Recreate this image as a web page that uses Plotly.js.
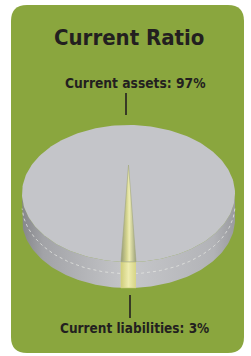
<!DOCTYPE html>
<html><head><meta charset="utf-8">
<script src="https://cdn.plot.ly/plotly-3.0.1.min.js"></script>
<style>html,body{margin:0;padding:0;background:#fff;}#c{width:251px;height:356px;}</style>
</head><body><div id="c"></div>
<script>
// ---- data ----
const title = 'Current Ratio';
const categories = ['Current assets', 'Current liabilities'];
const values = [97, 3];

// ---- geometry (pixel-like axis units) ----
const W = 251, H = 356;
const cx = 128.5, cy = 193.5, rx = 106.5, ry = 68.5, depth = 26;
const apexY = 165;          // perspective-projected centre of the pie
const FONT = '"DejaVu Sans Condensed", sans-serif';
const INK = '#231f20';

const total = values.reduce((a, b) => a + b, 0);
const liabHalf = Math.PI * values[1] / total;   // half angle of the small slice, centred at front
const front = Math.PI / 2;

function pt(t, dy) { return [cx + rx * Math.cos(t), cy + ry * Math.sin(t) + (dy || 0)]; }
function arc(t0, t1, n, dy) {
  const xs = [], ys = [];
  for (let i = 0; i <= n; i++) { const t = t0 + (t1 - t0) * i / n; const p = pt(t, dy); xs.push(p[0]); ys.push(p[1]); }
  return [xs, ys];
}

const traces = [];
// side band (front half)
{
  const a = arc(0, Math.PI, 120, 0), b = arc(Math.PI, 0, 120, depth);
  traces.push({x: a[0].concat(b[0]), y: a[1].concat(b[1]), mode: 'lines', line: {width: 0}, fill: 'toself',
    fillcolor: '#b0b1b5',
    fillgradient: {type: 'horizontal', colorscale: [[0, '#86878b'], [0.1, '#a2a3a7'], [0.5, '#c6c7ca'], [0.9, '#b2b3b7'], [1, '#9a9b9f']]},
    hoverinfo: 'skip', showlegend: false});
}
// dotted seam line on the side
{
  const a = arc(0.05, Math.PI - 0.05, 120, depth * 0.45);
  traces.push({x: a[0], y: a[1], mode: 'lines', line: {color: '#e2e3e0', width: 0.8, dash: 'dot'}, hoverinfo: 'skip', showlegend: false});
}
// liabilities slice side
{
  const a = arc(front - liabHalf * 0.75, front + liabHalf * 0.75, 20, 0), b = arc(front + liabHalf * 0.75, front - liabHalf * 0.75, 20, depth);
  traces.push({x: a[0].concat(b[0]), y: a[1].concat(b[1]), mode: 'lines', line: {color: '#d9d77a', width: 0.6}, fill: 'toself',
    fillcolor: '#e6e49c',
    fillgradient: {type: 'horizontal', colorscale: [[0, '#cfcd7c'], [0.5, '#eeecae'], [1, '#d6d486']]},
    hoverinfo: 'skip', showlegend: false});
}
// top face: current assets (full ellipse)
{
  const a = arc(0, 2 * Math.PI, 240, 0);
  traces.push({x: a[0], y: a[1], mode: 'lines', line: {width: 0}, fill: 'toself', fillcolor: '#c4c5c9',
    hoverinfo: 'skip', showlegend: false, name: categories[0]});
}
// top face: current liabilities wedge (narrowed by perspective at the front)
{
  const a = arc(front - liabHalf * 0.75, front + liabHalf * 0.75, 20, 0);
  const xs = [cx].concat(a[0], [cx]), ys = [apexY].concat(a[1], [apexY]);
  traces.push({x: xs, y: ys, mode: 'lines', line: {color: '#a3a77e', width: 0.6}, fill: 'toself',
    fillcolor: '#cfd08e',
    fillgradient: {type: 'horizontal', colorscale: [[0, '#979c74'], [0.4, '#d6d690'], [0.55, '#eeedb2'], [1, '#9da27a']]},
    hoverinfo: 'skip', showlegend: false, name: categories[1]});
}
// leader lines
traces.push({x: [cx - 2.5, cx - 2.5], y: [93, 115], mode: 'lines', line: {color: INK, width: 1.6}, hoverinfo: 'skip', showlegend: false});
traces.push({x: [cx + 1.5, cx + 1.5], y: [cy + ry + depth + 7, 318], mode: 'lines', line: {color: INK, width: 1.6}, hoverinfo: 'skip', showlegend: false});

const gx0 = 11, gx1 = 244, gy0 = 5, gy1 = 353, r = 16;
const panel = `M ${gx0 + r} ${gy0} L ${gx1 - r} ${gy0} Q ${gx1} ${gy0} ${gx1} ${gy0 + r} L ${gx1} ${gy1 - r} Q ${gx1} ${gy1} ${gx1 - r} ${gy1} L ${gx0 + r} ${gy1} Q ${gx0} ${gy1} ${gx0} ${gy1 - r} L ${gx0} ${gy0 + r} Q ${gx0} ${gy0} ${gx0 + r} ${gy0} Z`;

const layout = {
  width: W, height: H, margin: {l: 0, r: 0, t: 0, b: 0},
  paper_bgcolor: '#ffffff', plot_bgcolor: 'rgba(0,0,0,0)',
  xaxis: {range: [0, W], visible: false, fixedrange: true},
  yaxis: {range: [H, 0], visible: false, fixedrange: true},
  shapes: [{type: 'path', path: panel, xref: 'x', yref: 'y', fillcolor: '#8aa63e', line: {width: 0}, layer: 'below'}],
  annotations: [
    {text: '<b>' + title + '</b>', x: 128.5, y: 37, xref: 'x', yref: 'y', showarrow: false, font: {family: FONT, size: 22, color: INK}},
    {text: '<b>' + categories[0] + ': ' + values[0] + '%</b>', x: 135, y: 83, xref: 'x', yref: 'y', showarrow: false, font: {family: FONT, size: 13.7, color: INK}},
    {text: '<b>' + categories[1] + ': ' + values[1] + '%</b>', x: 134, y: 328, xref: 'x', yref: 'y', showarrow: false, font: {family: FONT, size: 13.5, color: INK}}
  ],
  showlegend: false
};
Plotly.newPlot('c', traces, layout, {displayModeBar: false, staticPlot: true});
</script></body></html>
